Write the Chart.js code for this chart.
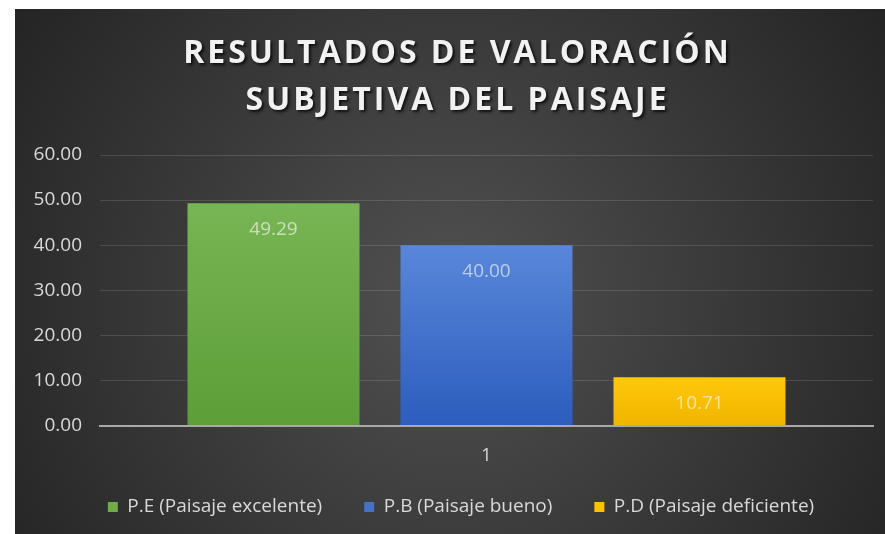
<!DOCTYPE html>
<html>
<head>
<meta charset="utf-8">
<script src="https://cdn.jsdelivr.net/npm/chart.js@4.4.1/dist/chart.umd.min.js"></script>
<style>
  html, body { margin: 0; padding: 0; background: #ffffff; }
  #wrap { position: absolute; left: 15px; top: 9px; width: 870px; height: 525px; }
</style>
</head>
<body>
<div id="wrap"><canvas id="chart"></canvas></div>
<script>
// ---- data ----
const categories = ['1'];
const seriesNames = ['P.E (Paisaje excelente)', 'P.B (Paisaje bueno)', 'P.D (Paisaje deficiente)'];
const excelente = [49.29];
const bueno = [40.00];
const deficiente = [10.71];
const yTickValues = [0, 10, 20, 30, 40, 50, 60];
const titleLines = ['RESULTADOS DE VALORACIÓN', 'SUBJETIVA DEL PAISAJE'];

// ---- styling ----
const FONT = '"Open Sans", "Noto Sans", sans-serif';
const TEXT = '#d9d9d9';
const legendColors = ['#70ad47', '#4472c4', '#ffc000'];
const barShades = [
  ['#78b554', '#5d9e38'],
  ['#5887da', '#2d5dbd'],
  ['#ffc80a', '#f0b500']
];

function barFill(top, bottom) {
  return (c) => {
    const chart = c.chart;
    if (!chart.chartArea || c.type !== 'data') return bottom;
    const ys = chart.scales.y;
    const y0 = ys.getPixelForValue(c.raw);
    const y1 = ys.getPixelForValue(0);
    const g = chart.ctx.createLinearGradient(0, y0, 0, y1);
    g.addColorStop(0, top);
    g.addColorStop(1, bottom);
    return g;
  };
}

// dark radial backdrop
const backdrop = {
  id: 'backdrop',
  beforeDraw(chart) {
    const { ctx, width, height } = chart;
    const cx = width * 0.5, cy = height * 0.55;
    const g = ctx.createRadialGradient(cx, cy, 0, cx, cy, 560);
    g.addColorStop(0, '#515151');
    g.addColorStop(1, '#212121');
    ctx.save();
    ctx.fillStyle = g;
    ctx.fillRect(0, 0, width, height);
    ctx.restore();
  }
};

// legend row sits a little right of the canvas centre; the category
// label needs a taller clip box than the fitted axis height
const layoutTweaks = {
  id: 'layoutTweaks',
  afterLayout(chart) {
    if (chart.legend) chart.legend.left = 34;
    const xs = chart.scales.x;
    if (xs) xs.bottom = xs.top + 60;
  }
};

// two-line spaced title with a soft shadow
const spacedTitle = {
  id: 'spacedTitle',
  afterDraw(chart) {
    const { ctx } = chart;
    ctx.save();
    ctx.font = 'bold 32px ' + FONT;
    ctx.letterSpacing = '3px';
    ctx.fillStyle = '#f2f2f2';
    ctx.textAlign = 'left';
    ctx.textBaseline = 'alphabetic';
    ctx.shadowColor = 'rgba(0,0,0,0.75)';
    ctx.shadowOffsetX = 2;
    ctx.shadowOffsetY = 2;
    ctx.shadowBlur = 3;
    const cx = 441;
    const baselines = [54, 101];
    titleLines.forEach((line, i) => {
      const w = ctx.measureText(line).width - 3;
      ctx.fillText(line, cx - w / 2, baselines[i]);
    });
    ctx.restore();
  }
};

// value labels inside the top of each bar
const valueLabels = {
  id: 'valueLabels',
  afterDatasetsDraw(chart) {
    const { ctx } = chart;
    ctx.save();
    ctx.font = '19px ' + FONT;
    ctx.fillStyle = 'rgba(255,255,255,0.6)';
    ctx.textAlign = 'center';
    ctx.textBaseline = 'middle';
    chart.data.datasets.forEach((ds, i) => {
      const meta = chart.getDatasetMeta(i);
      meta.data.forEach((bar, j) => {
        ctx.fillText(Number(ds.data[j]).toFixed(2), bar.x, bar.y + 26);
      });
    });
    ctx.restore();
  }
};

const seriesValues = [excelente, bueno, deficiente];

new Chart(document.getElementById('chart'), {
  type: 'bar',
  data: {
    labels: categories,
    datasets: seriesValues.map((vals, i) => ({
      label: seriesNames[i],
      data: vals,
      backgroundColor: barFill(barShades[i][0], barShades[i][1]),
      borderWidth: 0,
      categoryPercentage: 0.8266,
      barPercentage: 0.8075
    }))
  },
  options: {
    responsive: true,
    maintainAspectRatio: false,
    animation: false,
    layout: { padding: { top: 146, left: 0, right: 12, bottom: 7.5 } },
    scales: {
      x: {
        z: 1,
        grid: { display: false, drawTicks: false },
        border: { display: true, color: '#a9a9a9', width: 2 },
        ticks: { color: TEXT, font: { family: FONT, size: 18 }, padding: 20 },
        afterFit(scale) { scale.height = 30; }
      },
      y: {
        min: 0,
        max: 60,
        afterBuildTicks(scale) { scale.ticks = yTickValues.map(v => ({ value: v })); },
        grid: { color: 'rgba(255,255,255,0.13)', lineWidth: 1, drawTicks: false },
        border: { display: false },
        ticks: {
          color: TEXT,
          font: { family: FONT, size: 19 },
          padding: 18,
          callback: (v) => Number(v).toFixed(2)
        },
        afterFit(scale) { scale.width = 85; }
      }
    },
    plugins: {
      title: { display: false },
      tooltip: { enabled: false },
      legend: {
        position: 'bottom',
        labels: {
          color: TEXT,
          font: { family: FONT, size: 19 },
          boxWidth: 10,
          boxHeight: 10,
          padding: 42,
          generateLabels(chart) {
            return chart.data.datasets.map((ds, i) => ({
              text: ds.label,
              fillStyle: legendColors[i],
              strokeStyle: legendColors[i],
              lineWidth: 0,
              hidden: false,
              datasetIndex: i,
              fontColor: TEXT
            }));
          }
        }
      }
    }
  },
  plugins: [backdrop, layoutTweaks, valueLabels, spacedTitle]
});
</script>
</body>
</html>
